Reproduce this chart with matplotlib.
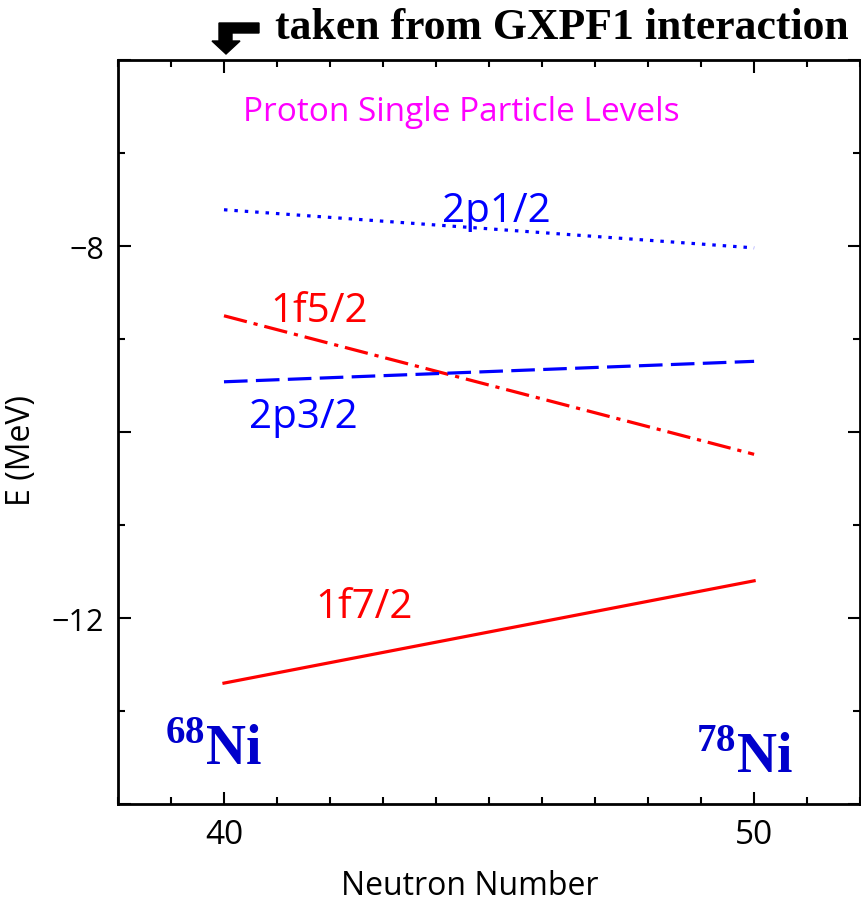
import matplotlib
matplotlib.use('Agg')
import matplotlib.pyplot as plt
from matplotlib.patches import Polygon
from matplotlib.ticker import MultipleLocator, FixedLocator

plt.rcParams['lines.scale_dashes'] = False
plt.rcParams['mathtext.fontset'] = 'custom'
plt.rcParams['mathtext.bf'] = 'Liberation Serif:bold'
plt.rcParams['mathtext.rm'] = 'Liberation Serif'

# neutron number at the two ends
neutrons = [40, 50]

# proton single particle energies (MeV)
e_2p12 = [-7.61, -8.02]
e_1f52 = [-8.75, -10.24]
e_2p32 = [-9.46, -9.24]
e_1f72 = [-12.70, -11.60]

level_names = ['2p1/2', '1f5/2', '2p3/2', '1f7/2']

fig = plt.figure(figsize=(8.61, 9.04), dpi=100)
ax = fig.add_axes([0.137, 0.1095, 0.862, 0.823])

blue = '#0000ff'
red = '#ff0000'
ax.plot(neutrons, e_2p12, color=blue, lw=2.3, linestyle=(0, (2.5, 5)))
ax.plot(neutrons, e_1f52, color=red, lw=2.3, linestyle=(0, (17, 5, 3, 5)))
ax.plot(neutrons, e_2p32, color=blue, lw=2.3, linestyle=(0, (17, 6)))
ax.plot(neutrons, e_1f72, color=red, lw=2.3, linestyle='-')

lab_font = dict(family='Open Sans', fontsize=29)
ax.text(45.14, -7.62, level_names[0], color=blue, ha='center', va='center', **lab_font)
ax.text(41.8, -8.70, level_names[1], color=red, ha='center', va='center', **lab_font)
ax.text(41.5, -9.84, level_names[2], color=blue, ha='center', va='center', **lab_font)
ax.text(42.65, -11.88, level_names[3], color=red, ha='center', va='center', **lab_font)

ax.text(44.48, -6.55, 'Proton Single Particle Levels', color='#ff00ff',
        ha='center', va='center', family='Open Sans', fontsize=24)

ni_col = '#0000cc'
ax.text(39.8, -13.42, r'$^{\mathbf{68}}$Ni', color=ni_col, ha='center', va='center',
        family='Liberation Serif', fontweight='bold', fontsize=40)
ax.text(49.83, -13.5, r'$^{\mathbf{78}}$Ni', color=ni_col, ha='center', va='center',
        family='Liberation Serif', fontweight='bold', fontsize=40)

ax.set_xlim(38, 52)
ax.set_ylim(-14, -6)
ax.xaxis.set_major_locator(FixedLocator([40, 50]))
ax.xaxis.set_minor_locator(MultipleLocator(1))
ax.yaxis.set_major_locator(FixedLocator([-14, -12, -10, -8, -6]))
ax.yaxis.set_minor_locator(MultipleLocator(1))
ax.yaxis.set_major_formatter(plt.FuncFormatter(
    lambda v, _: f'\u2212{abs(int(v))}' if v in (-8, -12) else ''))
ax.tick_params(which='both', direction='in', top=True, right=True, labelsize=24, width=1.5)
ax.tick_params(axis='y', labelsize=22)
ax.tick_params(which='major', length=9, pad=10)
ax.tick_params(which='minor', length=5)
for lab in ax.get_xticklabels() + ax.get_yticklabels():
    lab.set_family('Open Sans')
for sp in ax.spines.values():
    sp.set_linewidth(2)

ax.set_xlabel('Neutron Number', family='Open Sans', fontsize=23)
ax.xaxis.set_label_coords(0.474, -0.088)
ax.set_ylabel('E (MeV)', family='Open Sans', fontsize=23)
ax.yaxis.set_label_coords(-0.108, 0.477)

# bent arrow pointing at N = 40
W, H = 861, 904
pts = [(259, 24), (259, 34), (232, 34), (232, 42), (240, 42), (226, 55),
       (212, 42), (219, 42), (219, 24)]
arrow = Polygon([(x / W, 1 - y / H) for x, y in pts], closed=True,
                transform=fig.transFigure, color='black')
fig.patches.append(arrow)
fig.text(275 / W, 1 - 28 / H, 'taken from GXPF1 interaction', ha='left', va='center',
         family='Liberation Serif', fontweight='bold', fontsize=31.5)

fig.savefig('out.png', dpi=100)
